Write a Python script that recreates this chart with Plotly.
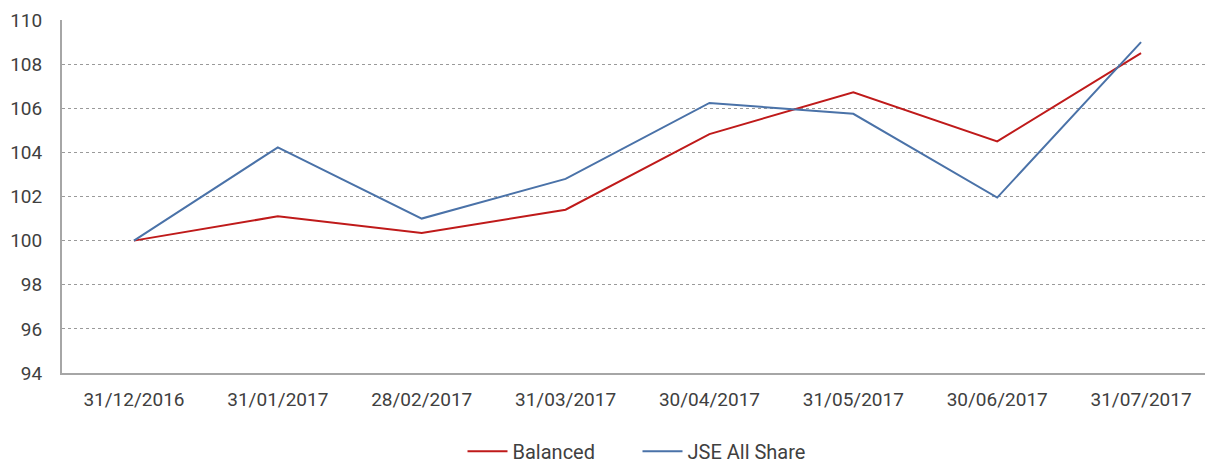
import plotly.graph_objects as go

dates = ["31/12/2016", "31/01/2017", "28/02/2017", "31/03/2017",
         "30/04/2017", "31/05/2017", "30/06/2017", "31/07/2017"]
balanced = [100.0, 101.1, 100.35, 101.4, 104.83, 106.72, 104.5, 108.5]
jse_all_share = [100.0, 104.23, 101.0, 102.8, 106.24, 105.75, 101.95, 109.0]
y_ticks = [94, 96, 98, 100, 102, 104, 106, 108, 110]

font_family = "Roboto"
text_color = "#404040"

fig = go.Figure()
fig.add_trace(go.Scatter(x=dates, y=balanced, name="Balanced", mode="lines",
                         line=dict(color="#BF1A1A", width=2)))
fig.add_trace(go.Scatter(x=dates, y=jse_all_share, name="JSE All Share", mode="lines",
                         line=dict(color="#4A72A8", width=2)))

fig.update_layout(
    width=1205, height=458,
    margin=dict(l=54, r=0, t=12, b=93, autoexpand=False),
    paper_bgcolor="white", plot_bgcolor="white",
    font=dict(family=font_family, size=19, color=text_color),
    showlegend=True,
    legend=dict(orientation="h", x=0.5, xanchor="center", y=-0.222, yanchor="middle",
                font=dict(size=20, color=text_color), itemwidth=40,
                entrywidth=120, tracegroupgap=0),
)
fig.update_xaxes(type="category", range=[-0.5, 7.5], showgrid=False, automargin=False,
                 showline=True, linecolor="#A6A6A6", linewidth=2,
                 ticks="outside", ticklen=8, tickcolor="rgba(0,0,0,0)",
                 tickfont=dict(size=19, color=text_color))
fig.update_yaxes(range=[94, 110], tickvals=y_ticks, showgrid=True, automargin=False,
                 gridcolor="#9A9A9A", griddash="dot", gridwidth=1,
                 showline=True, linecolor="#A6A6A6", linewidth=2,
                 ticks="outside", ticklen=14, tickcolor="rgba(0,0,0,0)",
                 tickfont=dict(size=19, color=text_color), zeroline=False)

fig.write_html("out.html")
